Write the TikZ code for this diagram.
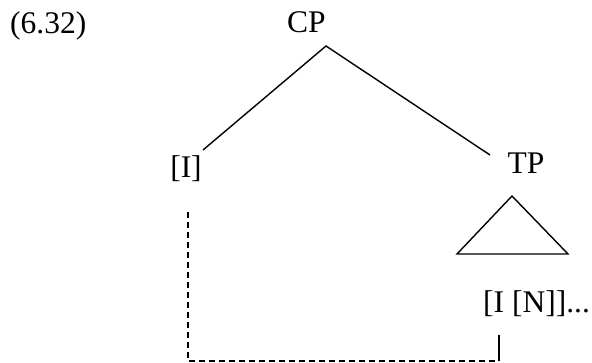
\documentclass[tikz,border=0pt]{standalone}
\usepackage{fontspec}
\setmainfont{Liberation Serif}
\begin{document}
\begin{tikzpicture}[x=1pt,y=-1pt,
  lbl/.style={font=\fontsize{31.5}{36}\selectfont, inner sep=0pt, anchor=base},
  edge/.style={line width=1.4pt},
  link/.style={line width=1.4pt, dash pattern=on 6pt off 4pt}]
\useasboundingbox (0,0) rectangle (592,363);
\node[lbl, anchor=base west] (ex) at (10,34) {(6.32)};
\node[lbl] (cp) at (306.5,33) {CP};
\node[lbl] (i) at (186,178) {[I]};
\node[lbl] (tp) at (526,174) {TP};
\node[lbl, anchor=base west] (in) at (483,313) {[I [N]]...};
\coordinate (cpb) at (326,46);
\coordinate (ie) at (203,150);
\coordinate (te) at (490,155);
\coordinate (ta) at (512,196);
\coordinate (tl) at (457,254);
\coordinate (tr) at (568,254);
\coordinate (d1) at (188,212);
\coordinate (d2) at (188,361);
\coordinate (d3) at (499,361);
\coordinate (d4) at (499,335);
\draw[edge] (ie) -- (cpb) -- (te);
\draw[edge] (ta) -- (tl) -- (tr) -- cycle;
\draw[link] (d1) -- (d2) -- (d3);
\draw[edge] (d3) -- (d4);
\end{tikzpicture}
\end{document}
